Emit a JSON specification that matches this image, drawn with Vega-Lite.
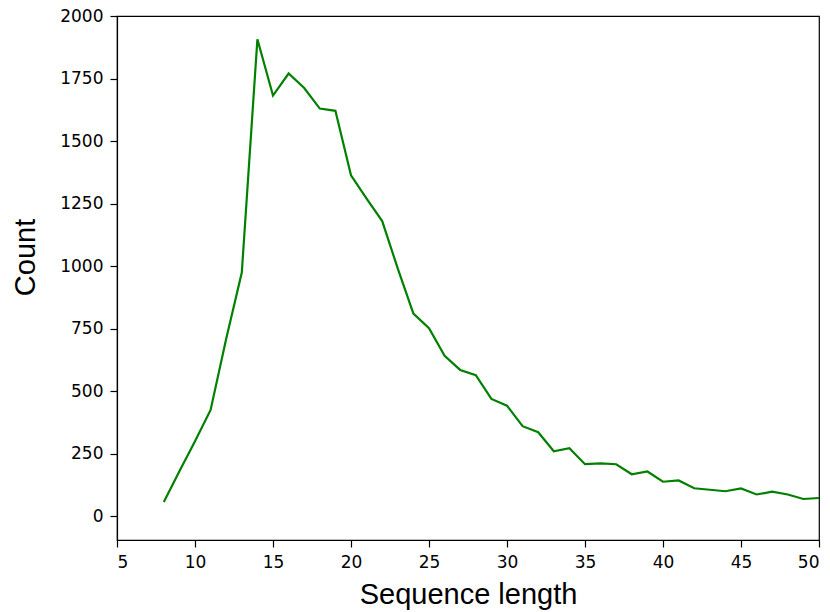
{
  "$schema": "https://vega.github.io/schema/vega-lite/v6.json",
  "autosize": "none",
  "width": 702,
  "height": 524,
  "padding": {"left": 117, "top": 16, "right": 11, "bottom": 72},
  "background": "white",
  "config": {
    "view": {"stroke": "black", "strokeWidth": 1.2},
    "axis": {
      "grid": false,
      "domainColor": "black",
      "domainWidth": 1.2,
      "tickColor": "black",
      "tickWidth": 1.2,
      "labelColor": "black",
      "titleColor": "black",
      "labelFont": "DejaVu Sans",
      "titleFont": "Liberation Sans",
      "labelFontSize": 17,
      "titleFontSize": 29,
      "titleFontWeight": "normal",
      "tickSize": 7,
      "labelPadding": 7
    }
  },
  "data": {
    "values": [
      {"len": 8, "count": 57},
      {"len": 9, "count": 180},
      {"len": 10, "count": 300},
      {"len": 11, "count": 425},
      {"len": 12, "count": 710},
      {"len": 13, "count": 974},
      {"len": 14, "count": 1907},
      {"len": 15, "count": 1682},
      {"len": 16, "count": 1770},
      {"len": 17, "count": 1712},
      {"len": 18, "count": 1630},
      {"len": 19, "count": 1621},
      {"len": 20, "count": 1363},
      {"len": 21, "count": 1270},
      {"len": 22, "count": 1180},
      {"len": 23, "count": 990},
      {"len": 24, "count": 810},
      {"len": 25, "count": 752},
      {"len": 26, "count": 641},
      {"len": 27, "count": 585},
      {"len": 28, "count": 564},
      {"len": 29, "count": 469},
      {"len": 30, "count": 442},
      {"len": 31, "count": 360},
      {"len": 32, "count": 336},
      {"len": 33, "count": 260},
      {"len": 34, "count": 272},
      {"len": 35, "count": 208},
      {"len": 36, "count": 211},
      {"len": 37, "count": 208},
      {"len": 38, "count": 168},
      {"len": 39, "count": 179},
      {"len": 40, "count": 138},
      {"len": 41, "count": 143},
      {"len": 42, "count": 112},
      {"len": 43, "count": 106},
      {"len": 44, "count": 100},
      {"len": 45, "count": 111},
      {"len": 46, "count": 87},
      {"len": 47, "count": 98},
      {"len": 48, "count": 87},
      {"len": 49, "count": 69},
      {"len": 50, "count": 73}
    ]
  },
  "mark": {"type": "line", "color": "#008000", "strokeWidth": 2.2, "clip": true},
  "encoding": {
    "x": {
      "field": "len",
      "type": "quantitative",
      "title": "Sequence length",
      "scale": {"domain": [5, 50], "nice": false, "zero": false},
      "axis": {"values": [5, 10, 15, 20, 25, 30, 35, 40, 45, 50], "format": "d", "titlePadding": 10}
    },
    "y": {
      "field": "count",
      "type": "quantitative",
      "title": "Count",
      "scale": {"domain": [-95, 2000], "nice": false, "zero": false},
      "axis": {
        "values": [0, 250, 500, 750, 1000, 1250, 1500, 1750, 2000],
        "format": "d",
        "titleX": -92,
        "titleY": 241,
        "titleAngle": -90,
        "titleAlign": "center",
        "titleBaseline": "middle"
      }
    }
  }
}
